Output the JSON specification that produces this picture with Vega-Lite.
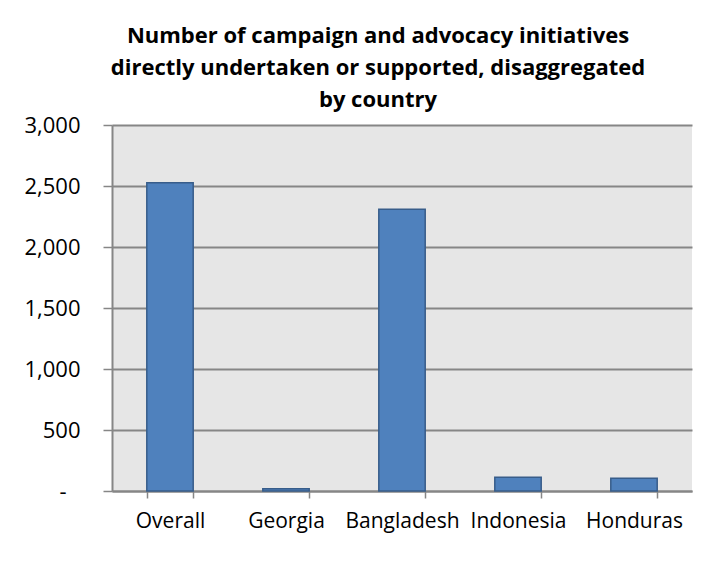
{
  "$schema": "https://vega.github.io/schema/vega-lite/v6.json",
  "width": 580,
  "height": 366,
  "autosize": "none",
  "padding": {"left": 112, "top": 125, "right": 16, "bottom": 94},
  "background": "white",
  "title": {
    "text": ["Number of campaign and advocacy initiatives", "directly undertaken or supported, disaggregated", "by country"],
    "font": "Open Sans",
    "fontSize": 22,
    "fontWeight": "bold",
    "color": "#000000",
    "lineHeight": 32,
    "anchor": "middle",
    "frame": "group",
    "dx": -24,
    "offset": 2
  },
  "data": {
    "values": [
      {"country": "Overall", "value": 2527},
      {"country": "Georgia", "value": 18},
      {"country": "Bangladesh", "value": 2309},
      {"country": "Indonesia", "value": 112},
      {"country": "Honduras", "value": 104}
    ]
  },
  "mark": {"type": "bar", "color": "#4f81bd", "stroke": "#385d8a", "strokeWidth": 1.5},
  "encoding": {
    "x": {
      "field": "country",
      "type": "nominal",
      "sort": null,
      "scale": {"paddingInner": 0.6, "paddingOuter": 0.3},
      "axis": {
        "title": null,
        "labelAngle": 0,
        "labelFont": "Open Sans",
        "labelFontSize": 21,
        "labelColor": "#000000",
        "labelPadding": 12,
        "tickBand": "extent",
        "tickSize": 7,
        "tickColor": "#868686",
        "tickWidth": 1.5,
        "domainColor": "#868686",
        "domainWidth": 2,
        "grid": false
      }
    },
    "y": {
      "field": "value",
      "type": "quantitative",
      "scale": {"domain": [0, 3000], "nice": false},
      "axis": {
        "title": null,
        "values": [0, 500, 1000, 1500, 2000, 2500, 3000],
        "labelExpr": "datum.value === 0 ? '-' : format(datum.value, ',')",
        "labelFont": "Open Sans",
        "labelFontSize": 22,
        "labelColor": "#000000",
        "labelPadding": {"condition": {"test": "datum.value === 0", "value": 37}, "value": 23},
        "tickSize": 9,
        "tickColor": "#868686",
        "tickWidth": 1.5,
        "domainColor": "#868686",
        "domainWidth": 2,
        "grid": true,
        "gridColor": "#868686",
        "gridWidth": 2
      }
    }
  },
  "config": {
    "view": {"fill": "#e6e6e6", "stroke": null}
  }
}
